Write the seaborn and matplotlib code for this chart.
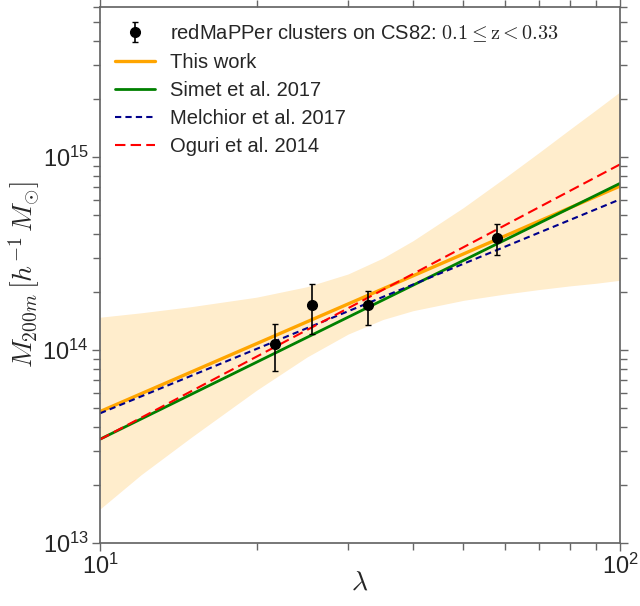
import numpy as np
import pandas as pd
import matplotlib
matplotlib.use('Agg')
import matplotlib.pyplot as plt
import matplotlib.ticker as mticker
import seaborn as sns

lam_data = [21.7, 25.6, 32.8, 57.9]
m_data = [1.07e14, 1.71e14, 1.71e14, 3.80e14]
m_err_hi = [1.37e14, 2.19e14, 2.03e14, 4.52e14]
m_err_lo = [7.8e13, 1.21e14, 1.35e14, 3.11e14]

# mass-richness relations, end points at lambda = 10 and 100
lam_fit = [10, 100]
m_this = [4.80e13, 7.08e14]
m_simet = [3.45e13, 7.31e14]
m_melchior = [4.70e13, 6.04e14]
m_oguri = [3.44e13, 9.17e14]

# confidence band of this work
lam_band = [10, 12, 15, 20, 25, 30, 35, 40, 50, 60, 70, 80, 90, 100]
band_hi = [1.48e14, 1.56e14, 1.68e14, 1.88e14, 2.13e14, 2.48e14, 3.00e14,
           3.69e14, 5.48e14, 7.80e14, 1.06e15, 1.39e15, 1.76e15, 2.18e15]
band_lo = [1.50e13, 2.26e13, 3.54e13, 6.19e13, 9.20e13, 1.21e14, 1.44e14,
           1.60e14, 1.81e14, 1.95e14, 2.06e14, 2.15e14, 2.22e14, 2.30e14]

sns.set_theme(style='ticks')
plt.rcParams['font.family'] = ['Liberation Sans', 'DejaVu Sans']
plt.rcParams['mathtext.fontset'] = 'cm'
plt.rcParams['axes.edgecolor'] = '#666666'
plt.rcParams['xtick.color'] = '#666666'
plt.rcParams['ytick.color'] = '#666666'
plt.rcParams['xtick.labelcolor'] = '#262626'
plt.rcParams['ytick.labelcolor'] = '#262626'

fig = plt.figure(figsize=(6.4, 6.06), dpi=100)
ax = fig.add_axes([100 / 640, 1 - 543 / 606, 520 / 640, 536 / 606])

ax.fill_between(lam_band, band_lo, band_hi, color='orange', alpha=0.2, lw=0)

lines = pd.DataFrame({'lam': lam_fit, 'this': m_this, 'simet': m_simet,
                      'melchior': m_melchior, 'oguri': m_oguri})
sns.lineplot(data=lines, x='lam', y='this', color='orange', lw=2.4,
             label='This work', ax=ax)
sns.lineplot(data=lines, x='lam', y='simet', color='green', lw=2.0,
             label='Simet et al. 2017', ax=ax)
sns.lineplot(data=lines, x='lam', y='melchior', color='darkblue', lw=1.5,
             dashes=(3, 2), label='Melchior et al. 2017', ax=ax)
sns.lineplot(data=lines, x='lam', y='oguri', color='red', lw=1.5,
             dashes=(5, 2.5), label='Oguri et al. 2014', ax=ax)

yerr = [np.array(m_data) - np.array(m_err_lo), np.array(m_err_hi) - np.array(m_data)]
eb = ax.errorbar(lam_data, m_data, yerr=yerr, fmt='o', color='black', ms=7,
                 elinewidth=1.2, capsize=2.5, capthick=1,
                 label=r'redMaPPer clusters on CS82: $0.1 \leq \mathrm{z} < 0.33$',
                 zorder=5)

ax.set_xscale('log')
ax.set_yscale('log')
ax.set_xlim(10, 100)
ax.set_ylim(1e13, 6e15)
ax.xaxis.set_minor_formatter(mticker.NullFormatter())
ax.yaxis.set_minor_formatter(mticker.NullFormatter())
ax.set_xlabel(r'$\lambda$', fontsize=20, labelpad=-7)
ax.set_ylabel(r'$M_{200m}\,[h^{-1}\,M_{\odot}]$', fontsize=20, labelpad=0)
ax.tick_params(which='both', direction='out', top=True, right=True,
               labelsize=17, width=1)
ax.tick_params(which='major', length=6, pad=2)
ax.tick_params(which='minor', length=5)

handles, labels = ax.get_legend_handles_labels()
order = [labels.index(eb.get_label())] + [i for i, l in enumerate(labels) if l != eb.get_label()]
ax.legend([handles[i] for i in order], [labels[i] for i in order],
          loc='upper left', frameon=False, fontsize=14.5, labelspacing=0.45,
          handlelength=2.0, handletextpad=0.75, borderaxespad=0.35)

fig.savefig('out.png', dpi=100)
